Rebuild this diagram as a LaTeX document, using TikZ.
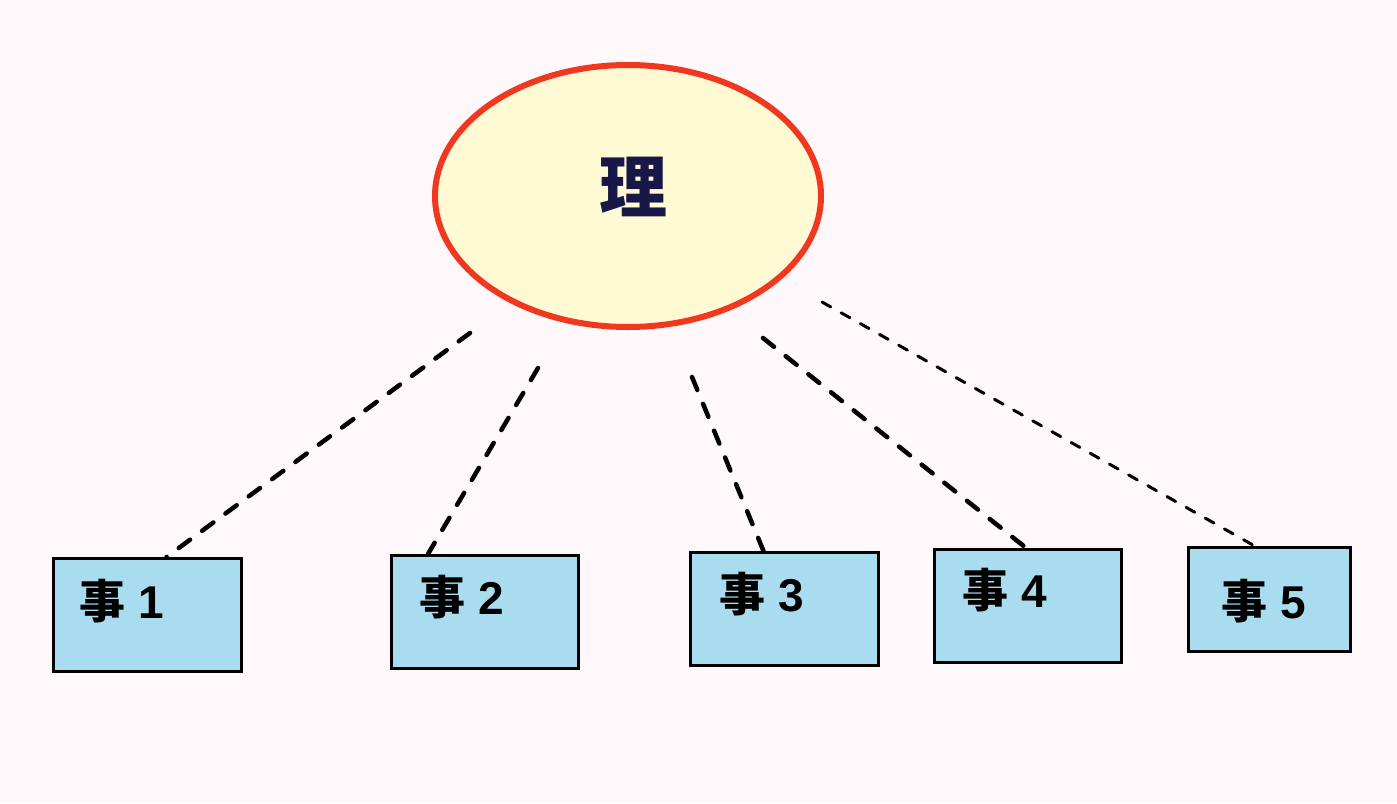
\documentclass[tikz,border=0pt]{standalone}
\usepackage{fontspec}
\usetikzlibrary{shapes.geometric,calc}
\newfontfamily\cjk{Noto Sans CJK SC}
\newfontfamily\digit{Liberation Sans}
\definecolor{bgc}{RGB}{255,248,250}
\definecolor{ellfill}{RGB}{255,249,212}
\definecolor{ellline}{RGB}{240,56,32}
\definecolor{boxfill}{RGB}{168,220,238}
\definecolor{navy}{RGB}{24,24,72}
\tikzset{
  evbox/.style={draw=black, line width=3pt, fill=boxfill, inner sep=0pt, anchor=north west},
  evtext/.style={font=\cjk\bfseries\fontsize{46}{48}\selectfont, text=black, inner sep=0pt},
  link/.style={line width=4.5pt, line cap=round, dash pattern=on 14pt off 15pt},
  thinlink/.style={line width=3pt, line cap=round, dash pattern=on 10pt off 12pt}
}
\newcommand{\ev}[1]{事\hspace{13pt}{\digit\bfseries\fontsize{46}{48}\selectfont #1}}
\begin{document}
\begin{tikzpicture}[x=1pt,y=-1pt]
\fill[bgc] (0,0) rectangle (1397,803);
\useasboundingbox (0,0) rectangle (1397,803);
\node[ellipse, draw=ellline, line width=6pt, fill=ellfill, minimum width=386pt, minimum height=262pt, inner sep=0pt] (li) at (628,196) {};
\node[font=\cjk\bfseries\fontsize{68}{72}\selectfont, text=navy, inner sep=0pt] (litext) at (633,187) {理};

\node[evbox, minimum width=188pt, minimum height=113pt] (b1) at (52,557) {};
\node[evbox, minimum width=187pt, minimum height=113pt] (b2) at (390,554) {};
\node[evbox, minimum width=188pt, minimum height=113pt] (b3) at (689,551) {};
\node[evbox, minimum width=187pt, minimum height=113pt] (b4) at (933,548) {};
\node[evbox, minimum width=162pt, minimum height=104pt] (b5) at (1187,546) {};

\node[evtext] (t1) at (122,601) {\ev{1}};
\node[evtext] (t2) at (462,597) {\ev{2}};
\node[evtext] (t3) at (762,594) {\ev{3}};
\node[evtext] (t4) at (1005,590) {\ev{4}};
\node[evtext] (t5) at (1264,601) {\ev{5}};

\coordinate (s1) at (470,333);
\coordinate (s2) at (538,368);
\coordinate (s3) at (692,377);
\coordinate (s4) at (763,338);
\coordinate (s5) at (822,302);

\draw[link] (s1) -- ($(b1.north west)!0.60!(b1.north east)$);
\draw[link] (s2) -- ($(b2.north west)!0.20!(b2.north east)$);
\draw[link] (s3) -- ($(b3.north west)!0.39!(b3.north east)$);
\draw[link] (s4) -- ($(b4.north west)!0.49!(b4.north east)$);
\draw[thinlink] (s5) -- ($(b5.north west)!0.41!(b5.north east)$);
\end{tikzpicture}
\end{document}
